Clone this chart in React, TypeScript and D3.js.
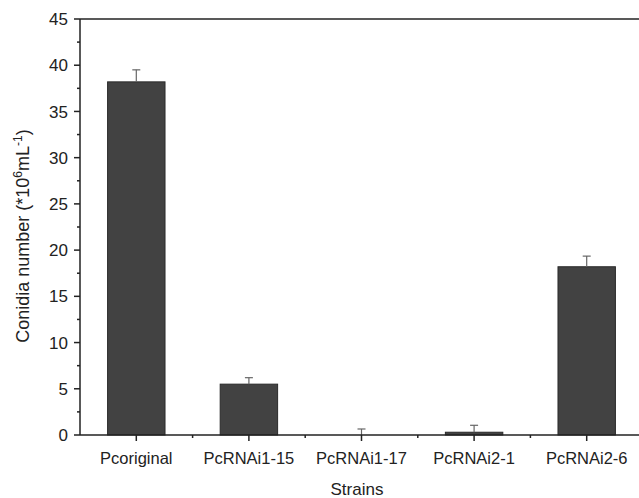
import * as d3 from 'd3'
import { useEffect, useRef } from 'react'

const strains = ['Pcoriginal', 'PcRNAi1-15', 'PcRNAi1-17', 'PcRNAi2-1', 'PcRNAi2-6']
const conidia = [38.2, 5.5, 0, 0.3, 18.2]
const errors = [1.3, 0.7, 0.65, 0.75, 1.15]
const yTicks = [0, 5, 10, 15, 20, 25, 30, 35, 40, 45]

export default function App() {
  const ref = useRef<SVGSVGElement>(null)

  useEffect(() => {
    const width = 639
    const height = 498
    const margin = { top: 19, right: -4, bottom: 63, left: 80 }

    const svg = d3.select(ref.current)
    svg.selectAll('*').remove()
    svg.attr('width', width).attr('height', height)

    const x = d3
      .scaleBand()
      .domain(strains)
      .range([margin.left, width - margin.right])
      .paddingInner(0.49)
      .paddingOuter(0.245)
    const y = d3
      .scaleLinear()
      .domain([0, 45])
      .range([height - margin.bottom, margin.top])

    const font = 'Liberation Sans, Arial, sans-serif'
    const axisColor = '#222'
    const step = x.step()

    // bars
    svg
      .append('g')
      .selectAll('rect')
      .data(strains)
      .enter()
      .append('rect')
      .attr('x', (d) => x(d)!)
      .attr('y', (d, i) => y(conidia[i]))
      .attr('width', x.bandwidth())
      .attr('height', (d, i) => y(0) - y(conidia[i]))
      .attr('fill', '#424242')
      .attr('stroke', '#2a2a2a')
      .attr('stroke-width', 1)

    // error bars (upper only)
    const eb = svg.append('g').attr('stroke', '#666').attr('stroke-width', 1.2)
    strains.forEach((s, i) => {
      const cx = x(s)! + x.bandwidth() / 2
      eb.append('line')
        .attr('x1', cx)
        .attr('x2', cx)
        .attr('y1', y(conidia[i]))
        .attr('y2', y(conidia[i] + errors[i]))
      eb.append('line')
        .attr('x1', cx - 4)
        .attr('x2', cx + 4)
        .attr('y1', y(conidia[i] + errors[i]))
        .attr('y2', y(conidia[i] + errors[i]))
    })

    // axes
    const left = margin.left
    const right = width - margin.right
    const axes = svg.append('g').attr('stroke', axisColor).attr('stroke-width', 1.5)
    axes.append('line').attr('x1', left).attr('x2', right).attr('y1', y(0)).attr('y2', y(0))
    axes.append('line').attr('x1', left).attr('x2', right).attr('y1', y(45)).attr('y2', y(45))
    axes.append('line').attr('x1', left).attr('x2', left).attr('y1', y(0)).attr('y2', y(45))

    // y ticks major + minor
    yTicks.forEach((t) => {
      axes.append('line').attr('x1', left - 6).attr('x2', left).attr('y1', y(t)).attr('y2', y(t))
      if (t < 45) {
        axes
          .append('line')
          .attr('x1', left - 3)
          .attr('x2', left)
          .attr('y1', y(t + 2.5))
          .attr('y2', y(t + 2.5))
      }
    })
    svg
      .append('g')
      .selectAll('text')
      .data(yTicks)
      .enter()
      .append('text')
      .attr('x', left - 12)
      .attr('y', (d) => y(d))
      .attr('dy', '0.36em')
      .attr('text-anchor', 'end')
      .attr('font-family', font)
      .attr('font-size', 17)
      .attr('fill', '#222')
      .text((d) => d)

    // x ticks major at categories, minor at boundaries
    strains.forEach((s, i) => {
      const cx = x(s)! + x.bandwidth() / 2
      axes.append('line').attr('x1', cx).attr('x2', cx).attr('y1', y(0)).attr('y2', y(0) + 6)
      if (i > 0) {
        const bx = cx - step / 2
        axes.append('line').attr('x1', bx).attr('x2', bx).attr('y1', y(0)).attr('y2', y(0) + 3)
      }
    })
    svg
      .append('g')
      .selectAll('text')
      .data(strains)
      .enter()
      .append('text')
      .attr('x', (d) => x(d)! + x.bandwidth() / 2)
      .attr('y', y(0) + 29)
      .attr('text-anchor', 'middle')
      .attr('font-family', font)
      .attr('font-size', 16.5)
      .attr('fill', '#222')
      .text((d) => d)

    // axis titles
    svg
      .append('text')
      .attr('x', 357)
      .attr('y', 495)
      .attr('text-anchor', 'middle')
      .attr('font-family', font)
      .attr('font-size', 17)
      .attr('fill', '#222')
      .text('Strains')

    const yl = svg
      .append('text')
      .attr('transform', `translate(29,${236}) rotate(-90)`)
      .attr('text-anchor', 'middle')
      .attr('font-family', font)
      .attr('font-size', 18)
      .attr('fill', '#222')
    yl.append('tspan').text('Conidia number (*10')
    yl.append('tspan').attr('dy', -7).attr('font-size', 12).text('6')
    yl.append('tspan').attr('dy', 7).text('mL')
    yl.append('tspan').attr('dy', -7).attr('font-size', 12).text('-1')
    yl.append('tspan').attr('dy', 7).text(')')
  }, [])

  return (
    <svg
      ref={ref}
      style={{ position: 'absolute', left: 0, top: 0, display: 'block', background: '#fff' }}
    />
  )
}
